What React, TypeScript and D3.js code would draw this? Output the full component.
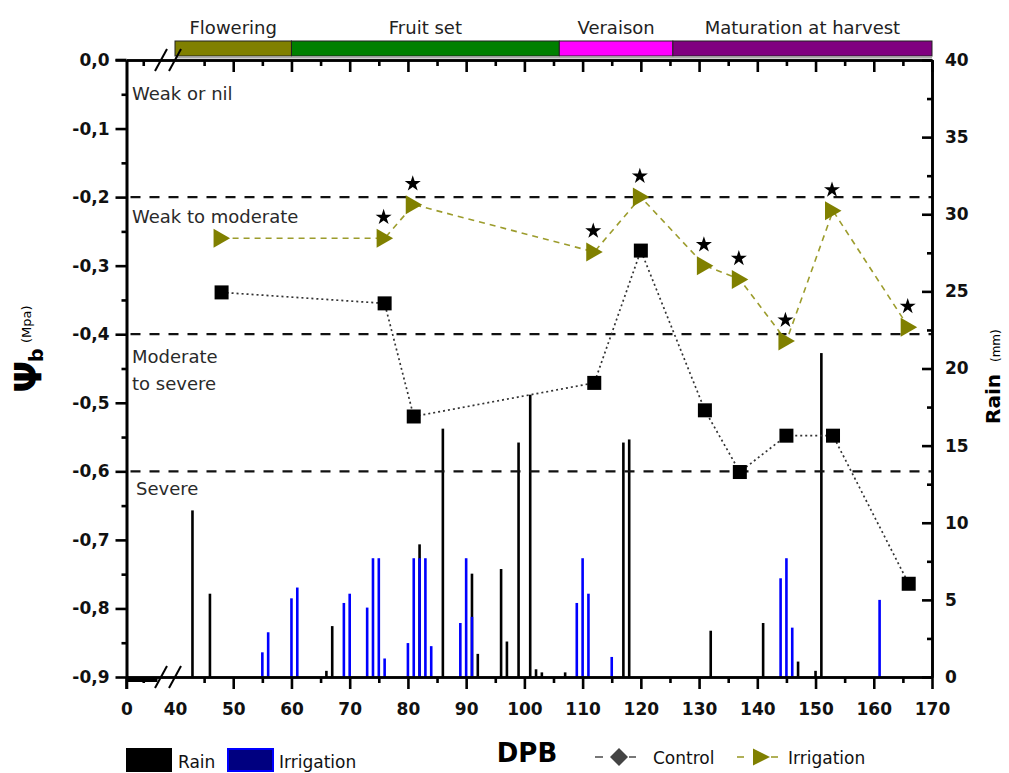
import * as d3 from "d3";
import { useEffect, useRef } from "react";

// Rain (mm) by day of the season (DPB)
const rainDays = [43, 46, 66, 67, 82, 86, 91, 92, 96, 97, 99, 101, 102, 103, 107, 117, 118, 132, 141, 147, 150, 151];
const rainMm = [10.8, 5.4, 0.4, 3.3, 8.6, 16.1, 6.7, 1.5, 7.0, 2.3, 15.2, 18.3, 0.5, 0.3, 0.3, 15.2, 15.4, 3.0, 3.5, 1.0, 0.4, 21.0];

// Irrigation (mm) by day
const irrigDays = [55, 56, 60, 61, 69, 70, 73, 74, 75, 76, 80, 81, 82, 83, 84, 89, 90, 91, 109, 110, 111, 115, 144, 145, 146, 161];
const irrigMm = [1.6, 2.9, 5.1, 5.8, 4.8, 5.4, 4.5, 7.7, 7.7, 1.2, 2.2, 7.7, 7.7, 7.7, 2.0, 3.5, 7.7, 3.9, 4.8, 7.7, 5.4, 1.3, 6.4, 7.7, 3.2, 5.0];

// Predawn water potential (MPa)
const psiDays = [48, 76, 81, 112, 120, 131, 137, 145, 153, 166];
const psiControl = [-0.339, -0.355, -0.52, -0.471, -0.278, -0.511, -0.601, -0.548, -0.548, -0.764];
const psiIrrigation = [-0.26, -0.26, -0.211, -0.28, -0.2, -0.3, -0.32, -0.41, -0.22, -0.39];
const significant = [false, true, true, true, true, true, true, true, true, true];

// Phenological stages
const phaseNames = ["Flowering", "Fruit set", "Veraison", "Maturation at harvest"];
const phaseStart = [40, 60, 106, 125.5];
const phaseEnd = [60, 106, 125.5, 170];
const phaseColors = ["#808000", "#008000", "#ff00ff", "#800080"];

// Stress thresholds
const zoneLimits = [-0.2, -0.4, -0.6];
const zoneNames = [["Weak or nil"], ["Weak to moderate"], ["Moderate", "to severe"], ["Severe"]];

// Ticks
const xMajor = [0, 40, 50, 60, 70, 80, 90, 100, 110, 120, 130, 140, 150, 160, 170];
const xMinor = [5, 45, 55, 65, 75, 85, 95, 105, 115, 125, 135, 145, 155, 165];
const yMajor = [0, -0.1, -0.2, -0.3, -0.4, -0.5, -0.6, -0.7, -0.8, -0.9];
const yMinor = [-0.05, -0.15, -0.25, -0.35, -0.45, -0.55, -0.65, -0.75, -0.85];
const rMajor = [0, 5, 10, 15, 20, 25, 30, 35, 40];
const rMinor = [2.5, 7.5, 12.5, 17.5, 22.5, 27.5, 32.5, 37.5];

const FONT = "'DejaVu Sans', sans-serif";

const App = () => {
  const ref = useRef<SVGSVGElement>(null);

  useEffect(() => {
    const svg = d3.select(ref.current);
    svg.selectAll("*").remove();

    // broken x axis: 0..10 squeezed in front of the break, then 40..170
    const x = d3.scaleLinear().domain([0, 10, 40, 170]).range([126.5, 160, 175, 932]);
    const y = d3.scaleLinear().domain([0, -0.9]).range([60, 677]);
    const yR = d3.scaleLinear().domain([0, 40]).range([677, 60]);
    const left = 126.5, right = 932, top = 60, bottom = 677;

    // phase band
    const ph = svg.append("g");
    ph.selectAll("rect")
      .data(phaseNames)
      .join("rect")
      .attr("x", (d, i) => x(phaseStart[i]))
      .attr("y", 41)
      .attr("width", (d, i) => x(phaseEnd[i]) - x(phaseStart[i]))
      .attr("height", 15)
      .attr("fill", (d, i) => phaseColors[i])
      .attr("stroke", "#222")
      .attr("stroke-width", 1);
    ph.selectAll("text")
      .data(phaseNames)
      .join("text")
      .attr("x", (d, i) => (x(phaseStart[i]) + x(phaseEnd[i])) / 2)
      .attr("y", 34)
      .attr("text-anchor", "middle")
      .style("font-family", FONT)
      .style("font-size", "18px")
      .style("fill", "#222")
      .text((d) => d);
    svg.append("line")
      .attr("x1", x(40)).attr("x2", right)
      .attr("y1", 57.5).attr("y2", 57.5)
      .attr("stroke", "#aaa").attr("stroke-width", 2);

    // rain and irrigation bars
    svg.append("g")
      .selectAll("rect")
      .data(rainDays)
      .join("rect")
      .attr("x", (d) => x(d) - 1.3)
      .attr("y", (d, i) => yR(rainMm[i]))
      .attr("width", 2.6)
      .attr("height", (d, i) => bottom - yR(rainMm[i]))
      .attr("fill", "#000");
    svg.append("g")
      .selectAll("rect")
      .data(irrigDays)
      .join("rect")
      .attr("x", (d) => x(d) - 1.3)
      .attr("y", (d, i) => yR(irrigMm[i]))
      .attr("width", 2.6)
      .attr("height", (d, i) => bottom - yR(irrigMm[i]))
      .attr("fill", "#0000ff");

    // thick bar under the compressed part of the axis
    svg.append("rect").attr("x", left).attr("y", bottom).attr("width", 31).attr("height", 5).attr("fill", "#000");

    // threshold lines
    svg.append("g")
      .selectAll("line")
      .data(zoneLimits)
      .join("line")
      .attr("x1", left + 4).attr("x2", right)
      .attr("y1", (d) => y(d)).attr("y2", (d) => y(d))
      .attr("stroke", "#111")
      .attr("stroke-width", 2.2)
      .attr("stroke-dasharray", "10 9");

    // zone labels
    const zoneTop = [0, ...zoneLimits];
    const zoneOffset = [40, 26, 29, 24];
    zoneNames.forEach((lines, i) => {
      lines.forEach((t, j) => {
        svg.append("text")
          .attr("x", i === 3 ? 136 : 132)
          .attr("y", y(zoneTop[i]) + zoneOffset[i] + j * 27)
          .style("font-family", FONT)
          .style("font-size", "18px")
          .style("fill", "#2a2a2a")
          .text(t);
      });
    });

    // series lines
    const line = d3.line<number>().x((d, i) => x(psiDays[i])).y((d) => y(d));
    svg.append("path")
      .attr("d", line(psiControl))
      .attr("fill", "none")
      .attr("stroke", "#333")
      .attr("stroke-width", 1.7)
      .attr("stroke-dasharray", "2 3");
    svg.append("path")
      .attr("d", line(psiIrrigation))
      .attr("fill", "none")
      .attr("stroke", "#9c9c2c")
      .attr("stroke-width", 1.6)
      .attr("stroke-dasharray", "6 5");

    // markers
    svg.append("g")
      .selectAll("rect")
      .data(psiControl)
      .join("rect")
      .attr("x", (d, i) => x(psiDays[i]) - 7)
      .attr("y", (d) => y(d) - 7)
      .attr("width", 14)
      .attr("height", 14)
      .attr("fill", "#000");
    svg.append("g")
      .selectAll("path")
      .data(psiIrrigation)
      .join("path")
      .attr("transform", (d, i) => `translate(${x(psiDays[i])},${y(d)})`)
      .attr("d", "M-8,-9.5L8.5,0L-8,9.5Z")
      .attr("fill", "#808000");
    const starIdx = d3.range(psiDays.length).filter((i) => significant[i]);
    svg.append("g")
      .selectAll("path")
      .data(starIdx)
      .join("path")
      .attr("transform", (i) => `translate(${x(psiDays[i]) - 1},${y(psiIrrigation[i]) - 21})`)
      .attr("d", d3.symbol(d3.symbolStar, 80)())
      .attr("fill", "#000");

    // axes
    const styleAxis = (g: any, labels: boolean) => {
      g.select(".domain").attr("stroke-width", 2.6).attr("stroke", "#000");
      g.selectAll(".tick line").attr("stroke-width", 2.6).attr("stroke", "#000");
      g.selectAll("text")
        .style("font-family", FONT)
        .style("font-size", "17px")
        .style("font-weight", "bold")
        .style("fill", "#111")
        .style("display", labels ? null : "none");
    };

    svg.append("g")
      .attr("transform", `translate(0,${bottom})`)
      .call(d3.axisBottom(x).tickValues(xMajor).tickSize(12).tickSizeOuter(0).tickPadding(14).tickFormat((d: any) => String(d)))
      .call((g: any) => styleAxis(g, true))
      .call((g: any) => g.selectAll(".tick").filter((d: any) => d === 40).select("line").remove());
    svg.append("g")
      .attr("transform", `translate(0,${bottom})`)
      .call(d3.axisBottom(x).tickValues(xMinor).tickSize(6).tickSizeOuter(0).tickFormat(() => ""))
      .call((g: any) => styleAxis(g, false));
    svg.append("g")
      .attr("transform", `translate(0,${top})`)
      .call(d3.axisTop(x).tickValues(xMajor.filter((d) => d !== 0 && d !== 40)).tickSize(-12).tickSizeOuter(0).tickFormat(() => ""))
      .call((g: any) => styleAxis(g, false));
    svg.append("g")
      .attr("transform", `translate(0,${top})`)
      .call(d3.axisTop(x).tickValues(xMinor).tickSize(-6).tickSizeOuter(0).tickFormat(() => ""))
      .call((g: any) => styleAxis(g, false));

    const fmt = (d: number) => (d === 0 ? "0,0" : "-" + Math.abs(d).toFixed(1).replace(".", ","));
    svg.append("g")
      .attr("transform", `translate(${left},0)`)
      .call(d3.axisLeft(y).tickValues(yMajor).tickSize(11).tickSizeOuter(0).tickPadding(6).tickFormat((d: any) => fmt(d)))
      .call((g: any) => styleAxis(g, true));
    svg.append("g")
      .attr("transform", `translate(${left},0)`)
      .call(d3.axisLeft(y).tickValues(yMinor).tickSize(5).tickSizeOuter(0).tickFormat(() => ""))
      .call((g: any) => styleAxis(g, false));
    svg.append("line")
      .attr("x1", left).attr("x2", left).attr("y1", bottom).attr("y2", bottom + 12)
      .attr("stroke", "#000").attr("stroke-width", 2.6);

    svg.append("g")
      .attr("transform", `translate(${right},0)`)
      .call(d3.axisRight(yR).tickValues(rMajor).tickSize(-10).tickSizeOuter(0).tickPadding(13).tickFormat((d: any) => String(d)))
      .call((g: any) => styleAxis(g, true));
    svg.append("g")
      .attr("transform", `translate(${right},0)`)
      .call(d3.axisRight(yR).tickValues(rMinor).tickSize(-5).tickSizeOuter(0).tickFormat(() => ""))
      .call((g: any) => styleAxis(g, false));
    svg.append("line")
      .attr("x1", left - 11).attr("x2", left).attr("y1", top).attr("y2", top)
      .attr("stroke", "#000").attr("stroke-width", 2.6);

    // axis break marks
    [top, bottom].forEach((yy) => {
      [0, 14].forEach((dx) => {
        svg.append("line")
          .attr("x1", 155 + dx).attr("y1", yy + 11)
          .attr("x2", 167 + dx).attr("y2", yy - 11)
          .attr("stroke", "#000").attr("stroke-width", 2);
      });
    });

    // axis titles
    svg.append("text")
      .attr("x", 527).attr("y", 762)
      .attr("text-anchor", "middle")
      .style("font-family", FONT).style("font-size", "26px").style("font-weight", "bold")
      .text("DPB");
    svg.append("text")
      .attr("transform", "translate(41,393) rotate(-90)")
      .style("font-family", FONT).style("font-size", "38px").style("font-weight", "bold")
      .text("Ψ");
    svg.append("text")
      .attr("transform", "translate(43,362) rotate(-90)")
      .style("font-family", FONT).style("font-size", "19px").style("font-weight", "bold")
      .text("b");
    svg.append("text")
      .attr("transform", "translate(31,343) rotate(-90)")
      .style("font-family", FONT).style("font-size", "13px")
      .text("(Mpa)");
    svg.append("text")
      .attr("transform", "translate(1000,424) rotate(-90)")
      .style("font-family", FONT).style("font-size", "20px").style("font-weight", "bold")
      .text("Rain");
    svg.append("text")
      .attr("transform", "translate(1000,362) rotate(-90)")
      .style("font-family", FONT).style("font-size", "12px")
      .text("(mm)");

    // legend
    const lg = svg.append("g").style("font-family", FONT).style("font-size", "17px").style("fill", "#111");
    lg.append("rect").attr("x", 126).attr("y", 748).attr("width", 46).attr("height", 24).attr("fill", "#000");
    lg.append("text").attr("x", 178).attr("y", 768).text("Rain");
    lg.append("rect").attr("x", 228).attr("y", 749).attr("width", 45).attr("height", 22)
      .attr("fill", "#000080").attr("stroke", "#0000ff").attr("stroke-width", 2);
    lg.append("text").attr("x", 279).attr("y", 768).text("Irrigation");

    lg.append("line").attr("x1", 595).attr("x2", 603).attr("y1", 757).attr("y2", 757).attr("stroke", "#555").attr("stroke-width", 1.6);
    lg.append("line").attr("x1", 629).attr("x2", 636).attr("y1", 757).attr("y2", 757).attr("stroke", "#555").attr("stroke-width", 1.6);
    lg.append("path").attr("d", "M619,748L628,757L619,766L610,757Z").attr("fill", "#444");
    lg.append("text").attr("x", 653).attr("y", 764).text("Control");

    lg.append("line").attr("x1", 737).attr("x2", 744).attr("y1", 757).attr("y2", 757).attr("stroke", "#9c9c2c").attr("stroke-width", 1.6);
    lg.append("line").attr("x1", 771).attr("x2", 778).attr("y1", 757).attr("y2", 757).attr("stroke", "#9c9c2c").attr("stroke-width", 1.6);
    lg.append("path").attr("d", "M753,748.5L770,757L753,765.5Z").attr("fill", "#808000");
    lg.append("text").attr("x", 788).attr("y", 764).text("Irrigation");
  }, []);

  return (
    <svg
      ref={ref}
      width={1009}
      height={773}
      style={{ position: "absolute", left: 0, top: 0, background: "#fff" }}
    />
  );
};

export default App;
